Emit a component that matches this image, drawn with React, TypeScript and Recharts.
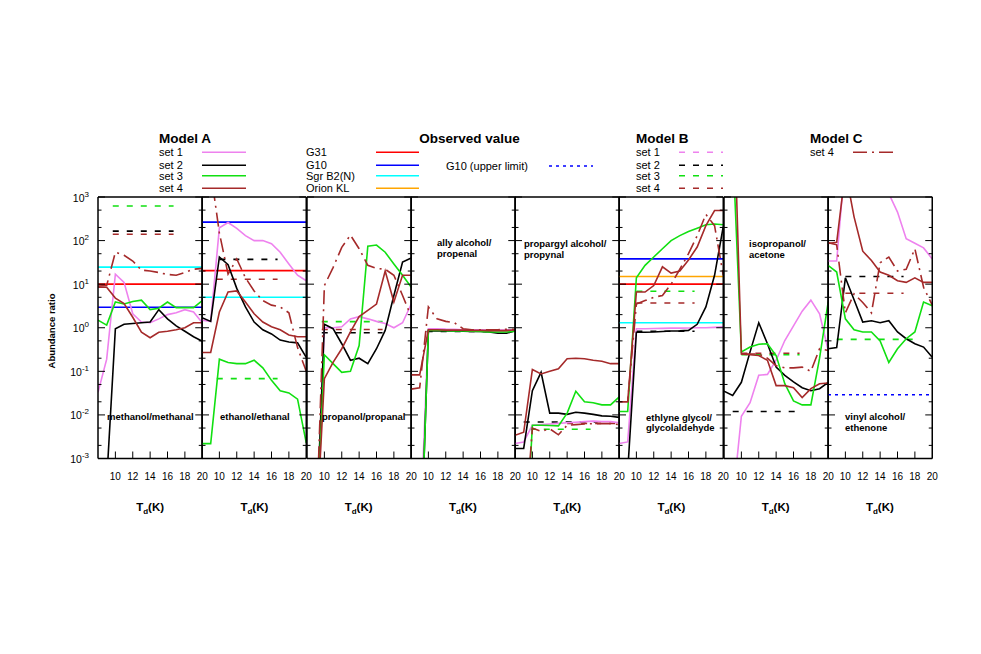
import React from "react";
import { LineChart, Line, XAxis, YAxis } from "recharts";

// temperatures (K) at which the models were computed
const TEMPS = [8, 9, 10, 11, 12, 13, 14, 15, 16, 17, 18, 19, 20];
const X_TICKS = [10, 12, 14, 16, 18, 20];
const Y_TICKS = [
  0.001, 0.002, 0.005, 0.01, 0.02, 0.05, 0.1, 0.2, 0.5, 1, 2, 5, 10, 20, 50, 100, 200, 500, 1000,
];

// Model A: set 1..4 ; Model C: set 4 ; Model B: [set, from T, to T, value] ; observed: [source, value]
const methanolA1 = [0.033, 0.19, 17, 11, 2.1, 1.35, 1.3, 1.6, 2.0, 2.2, 2.6, 2.3, 1.3];
const methanolA2 = [0.0002, 0.0003, 0.95, 1.2, 1.25, 1.3, 1.35, 2.6, 1.6, 1.1, 0.83, 0.62, 0.49];
const methanolA3 = [1.5, 1.15, 3.9, 3.5, 4.0, 4.3, 2.6, 2.8, 3.9, 2.9, 2.9, 2.9, 4.2];
const methanolA4 = [8.5, 8.5, 4.8, 3.6, 1.74, 0.79, 0.59, 0.79, 0.83, 0.9, 1.0, 1.3, 1.3];
const methanolC4 = [9, 9.3, 54, 46, 34, 21, 20, 18.5, 16.7, 16, 18.5, 22, 23];
const methanolB = [[3, 9.7, 16.7, 620], [2, 9.7, 16.7, 165], [4, 9.7, 16.7, 140]];
const methanolObs: [string, number][] = [["G31", 10], ["G10", 2.95], ["Sgr B2(N)", 24.6]];

const ethanolA1 = [1.5, 1.4, 196, 260, 190, 130, 100, 100, 85, 54, 29, 16, 12];
const ethanolA2 = [1.7, 1.4, 42, 28, 8, 3.0, 1.35, 0.9, 0.72, 0.52, 0.47, 0.45, 0.21];
const ethanolA3 = [0.0022, 0.0022, 0.19, 0.16, 0.15, 0.15, 0.18, 0.12, 0.062, 0.036, 0.032, 0.023, 0.0023];
const ethanolA4 = [0.27, 0.27, 2.3, 6.6, 7.0, 3.9, 2.1, 1.35, 1.05, 0.9, 0.68, 0.62, 0.62];
const ethanolC4 = [5000, 4000, 150, 17, 38, 14, 7, 4.2, 3.3, 3.0, 2.2, 0.35, 0.1];
const ethanolB = [[2, 10, 16.7, 37], [4, 9.7, 16.7, 13], [3, 9.7, 16.7, 0.068]];
const ethanolObs: [string, number][] = [["G10", 265], ["G31", 20.5], ["Sgr B2(N)", 5.0]];

const propanolA1 = [1e-6, 1e-5, 1.0, 1.0, 1.05, 1.6, 1.8, 1.6, 1.4, 1.25, 1.0, 1.3, 3.5];
const propanolA2 = [1e-6, 1e-5, 1.2, 0.95, 0.43, 0.18, 0.2, 0.15, 0.33, 0.87, 5.5, 32, 40];
const propanolA3 = [1e-6, 1e-5, 0.24, 0.15, 0.095, 0.1, 0.39, 74, 79, 54, 29, 16, 8.5];
const propanolA4 = [1e-6, 1e-5, 0.068, 0.16, 0.33, 0.8, 1.8, 2.5, 3.5, 20, 3.9, 16, 16];
const propanolC4 = [1e-6, 1e-5, 9.3, 24, 70, 134, 65, 27, 23, 22, 16, 5.5, 1.8];
const propanolB = [[3, 9.7, 16.7, 1.38], [4, 9.7, 16.7, 0.91], [2, 9.7, 16.7, 0.77]];
const propanolObs: [string, number][] = [];

const allylA1 = [1e-6, 1e-5, 0.95, 0.95, 0.93, 0.92, 0.9, 0.9, 0.9, 0.88, 0.88, 0.88, 0.9];
const allylA2 = [1e-6, 1e-6, 0.85, 0.85, 0.85, 0.85, 0.83, 0.82, 0.82, 0.8, 0.75, 0.75, 0.85];
const allylA3 = [1e-6, 1e-6, 0.88, 0.87, 0.86, 0.85, 0.84, 0.83, 0.82, 0.8, 0.8, 0.8, 0.83];
const allylA4 = [0.083, 0.083, 0.9, 0.9, 0.88, 0.88, 0.88, 0.87, 0.87, 0.86, 0.86, 0.86, 0.9];
const allylC4 = [0.039, 0.042, 3.0, 1.6, 1.4, 1.3, 0.95, 0.9, 0.9, 0.9, 0.9, 0.92, 0.92];
const allylB = [[2, 9.8, 16.7, 0.82], [4, 14, 20, 0.9]];
const allylObs: [string, number][] = [];

const propargylA1 = [0.0022, 0.0024, 0.0058, 0.006, 0.0062, 0.0064, 0.0066, 0.0068, 0.007, 0.0072, 0.007, 0.007, 0.0066];
const propargylA2 = [0.0017, 0.0017, 0.036, 0.095, 0.011, 0.011, 0.0103, 0.0115, 0.011, 0.0103, 0.0095, 0.0093, 0.0088];
const propargylA3 = [1e-6, 1e-6, 0.0058, 0.0058, 0.0057, 0.0056, 0.011, 0.035, 0.02, 0.019, 0.017, 0.017, 0.026];
const propargylA4 = [0.0034, 0.004, 0.11, 0.087, 0.1, 0.114, 0.195, 0.2, 0.195, 0.18, 0.17, 0.15, 0.15];
const propargylC4 = [1e-6, 1e-5, 0.005, 0.0042, 0.0048, 0.0035, 0.0058, 0.006, 0.0062, 0.0063, 0.0063, 0.0063, 0.006];
const propargylB = [[2, 9, 17.5, 0.0069], [3, 9.7, 16.7, 0.0047], [4, 14, 20, 0.0064]];
const propargylObs: [string, number][] = [];

const glycolA1 = [0.0022, 0.0024, 0.95, 0.95, 0.96, 0.97, 0.98, 0.98, 0.99, 1.0, 1.0, 1.02, 1.05];
const glycolA2 = [0.0005, 0.0005, 0.79, 0.79, 0.8, 0.82, 0.84, 0.85, 0.87, 1.2, 3.0, 16, 210];
const glycolA3 = [0.012, 0.012, 14, 27, 42, 65, 100, 130, 162, 192, 230, 240, 230];
const glycolA4 = [0.02, 0.02, 6.6, 6.6, 9.3, 25, 18, 20, 36, 71, 220, 490, 490];
const glycolC4 = [0.02, 0.02, 3.5, 4.2, 5, 5.5, 10, 22, 50, 130, 400, 220, 16];
const glycolB = [[3, 10, 16.7, 6.9], [4, 10, 16.7, 3.7], [2, 10, 16.7, 0.83]];
const glycolObs: [string, number][] = [["G10", 38], ["Orion KL", 15], ["G31", 10], ["Sgr B2(N)", 1.3]];

const isopropA1 = [1e-4, 1e-4, 0.0093, 0.019, 0.081, 0.085, 0.18, 0.51, 1.1, 2.4, 4.3, 2.1, 0.3];
const isopropA2 = [0.035, 0.028, 0.056, 0.28, 1.3, 0.43, 0.125, 0.081, 0.057, 0.042, 0.036, 0.04, 0.056];
const isopropA3 = [15000, 15000, 0.28, 0.36, 0.42, 0.43, 0.23, 0.052, 0.021, 0.017, 0.017, 0.2, 4];
const isopropA4 = [1e6, 1e6, 0.25, 0.24, 0.23, 0.18, 0.047, 0.047, 0.042, 0.025, 0.04, 0.052, 0.054];
const isopropC4 = [null, null, 0.25, 0.25, 0.25, 0.2, 0.135, 0.12, 0.12, 0.125, 0.1, 0.33, 0.3];
const isopropB = [[2, 9, 16.6, 0.012], [3, 10, 16.7, 0.24], [4, 10, 16.7, 0.26]];
const isopropObs: [string, number][] = [];

const vinylA1 = [34, 34, 8000, 8000, 8000, 8000, 8000, 1200, 450, 110, 87, 68, 38];
const vinylA2 = [0.33, 0.35, 14, 4.4, 1.35, 1.45, 1.3, 1.45, 0.8, 0.56, 0.43, 0.36, 0.21];
const vinylA3 = [27, 19, 1.6, 0.9, 0.8, 0.8, 0.5, 0.16, 0.33, 0.56, 0.8, 3.9, 3.2];
const vinylA4 = [86, 91, 4000, 350, 57, 35, 19, 16, 12, 11, 14, 11, 11];
const vinylC4 = [90, 80, 2.2, 6, 3.8, 2.2, 31, 42, 20, 22, 65, 8.5, 3.3];
const vinylB = [[2, 10, 16.7, 15], [4, 10, 16.7, 6.2], [3, 9, 17.9, 0.54]];
const vinylObs: [string, number][] = [["G10 (upper limit)", 0.029]];

const PANEL_LABELS = [
  ["methanol/methanal"],
  ["ethanol/ethanal"],
  ["propanol/propanal"],
  ["ally alcohol/", "propenal"],
  ["propargyl alcohol/", "propynal"],
  ["ethlyne glycol/", "glycolaldehyde"],
  ["isopropanol/", "acetone"],
  ["vinyl alcohol/", "ethenone"],
];

const PANELS = [
  { a: [methanolA1, methanolA2, methanolA3, methanolA4], c: methanolC4, b: methanolB, obs: methanolObs },
  { a: [ethanolA1, ethanolA2, ethanolA3, ethanolA4], c: ethanolC4, b: ethanolB, obs: ethanolObs },
  { a: [propanolA1, propanolA2, propanolA3, propanolA4], c: propanolC4, b: propanolB, obs: propanolObs },
  { a: [allylA1, allylA2, allylA3, allylA4], c: allylC4, b: allylB, obs: allylObs },
  { a: [propargylA1, propargylA2, propargylA3, propargylA4], c: propargylC4, b: propargylB, obs: propargylObs },
  { a: [glycolA1, glycolA2, glycolA3, glycolA4], c: glycolC4, b: glycolB, obs: glycolObs },
  { a: [isopropA1, isopropA2, isopropA3, isopropA4], c: isopropC4, b: isopropB, obs: isopropObs },
  { a: [vinylA1, vinylA2, vinylA3, vinylA4], c: vinylC4, b: vinylB, obs: vinylObs },
];

const SET_COLORS = ["#ee82ee", "#000000", "#11e011", "#a52a2a"];
const OBS_COLORS: Record<string, string> = {
  G31: "#ff0000",
  G10: "#0000ff",
  "Sgr B2(N)": "#00ffff",
  "Orion KL": "#ffa500",
  "G10 (upper limit)": "#0000ff",
};
const DASH_B = "6 8";
const DASH_C = "14 5 2 5";
const DOT_UL = "3 4";

// layout
const FONT = '"Liberation Sans", Arial, Helvetica, sans-serif';
const PLOT_LEFT = 98;
const PLOT_TOP = 196.5;
const PLOT_W = 104.25;
const PLOT_H = 261.5;
const PAD = 4;
const PAD_R = 14; // room for the "20" label on the right border
const PAD_T = 12;
const BOTTOM = 30;
const LINE_W = 1.6;
const axisStyle = { stroke: "#000", strokeWidth: 1.5 };

const isDecade = (v: number) => Math.abs(Math.log10(v) - Math.round(Math.log10(v))) < 1e-6;
const toSeries = (vals: (number | null)[]) => TEMPS.map((x, i) => ({ x, y: vals[i] }));

const XTick = (props: any) => {
  const { x, y, payload } = props;
  const v = payload.value;
  return (
    <g>
      {v < 20 && <line x1={x} x2={x} y1={y} y2={y - 7} stroke="#000" strokeWidth={1} />}
      <text x={x} y={y + 21} textAnchor="middle" fontSize={10} fontFamily={FONT} fill="#000">
        {v}
      </text>
    </g>
  );
};

const YTick = (props: any) => {
  const { x, y, payload, side, showLabel } = props;
  const v = payload.value;
  const major = isDecade(v);
  const len = major ? 7 : 3.5;
  const dir = side === "left" ? 1 : -1;
  return (
    <g>
      <line x1={x} x2={x + dir * len} y1={y} y2={y} stroke="#000" strokeWidth={1} />
      {showLabel && major && (
        <text x={x - 9} y={y + 4.5} textAnchor="end" fontSize={10.5} fontFamily={FONT} fill="#000">
          10
          <tspan dy={-5} fontSize={8}>
            {String(Math.round(Math.log10(v)))}
          </tspan>
        </text>
      )}
    </g>
  );
};

const Panel = ({ panel, index }: { panel: any; index: number }) => {
  const extra = index === 0 ? 50 : 0;
  const mLeft = PAD + extra;
  const width = PLOT_W + mLeft + PAD_R;
  const height = PLOT_H + PAD_T + BOTTOM;
  // every axis takes 1px of room (an axis of size 0 is not drawn), so margins give that pixel back
  return (
    <div style={{ position: "absolute", left: PLOT_LEFT + index * PLOT_W - mLeft, top: PLOT_TOP - PAD_T }}>
      <LineChart
        width={width}
        height={height}
        margin={{ top: PAD_T - 1, right: PAD_R - 1, bottom: BOTTOM - 1, left: mLeft - 1 }}
      >
        <XAxis
          dataKey="x"
          type="number"
          domain={[8, 20]}
          allowDataOverflow
          ticks={X_TICKS}
          interval={0}
          height={1}
          tickSize={0}
          tickMargin={0}
          tickLine={false}
          axisLine={axisStyle}
          tick={(p: any) => <XTick {...p} />}
        />
        <XAxis
          xAxisId="top"
          orientation="top"
          type="number"
          domain={[8, 20]}
          ticks={X_TICKS}
          height={1}
          tick={false}
          tickLine={false}
          axisLine={axisStyle}
        />
        <YAxis
          type="number"
          scale="log"
          domain={[0.001, 1000]}
          allowDataOverflow
          ticks={Y_TICKS}
          interval={0}
          width={1}
          tickSize={0}
          tickMargin={0}
          tickLine={false}
          axisLine={axisStyle}
          tick={(p: any) => <YTick {...p} side="left" showLabel={index === 0} />}
        />
        <YAxis
          yAxisId="right"
          orientation="right"
          type="number"
          scale="log"
          domain={[0.001, 1000]}
          allowDataOverflow
          ticks={Y_TICKS}
          interval={0}
          width={1}
          tickSize={0}
          tickMargin={0}
          tickLine={false}
          axisLine={axisStyle}
          tick={(p: any) => <YTick {...p} side="right" showLabel={false} />}
        />
        {panel.obs.map(([name, v]: [string, number]) => (
          <Line
            key={"obs-" + name}
            data={[{ x: 8, y: v }, { x: 20, y: v }]}
            dataKey="y"
            stroke={OBS_COLORS[name]}
            strokeWidth={LINE_W}
            strokeDasharray={name === "G10 (upper limit)" ? DOT_UL : undefined}
            dot={false}
            isAnimationActive={false}
          />
        ))}
        {panel.b.map(([set, from, to, v]: number[], i: number) => (
          <Line
            key={"b-" + i}
            data={[{ x: from, y: v }, { x: to, y: v }]}
            dataKey="y"
            stroke={SET_COLORS[set - 1]}
            strokeWidth={LINE_W}
            strokeDasharray={DASH_B}
            dot={false}
            isAnimationActive={false}
          />
        ))}
        {panel.a.map((vals: number[], i: number) => (
          <Line
            key={"a-" + i}
            data={toSeries(vals)}
            dataKey="y"
            stroke={SET_COLORS[i]}
            strokeWidth={LINE_W}
            dot={false}
            isAnimationActive={false}
          />
        ))}
        <Line
          data={toSeries(panel.c)}
          dataKey="y"
          stroke={SET_COLORS[3]}
          strokeWidth={LINE_W}
          strokeDasharray={DASH_C}
          dot={false}
          isAnimationActive={false}
        />
      </LineChart>
    </div>
  );
};

// label anchor points (page px)
const LABEL_POS = [
  [107, 417],
  [220, 417],
  [322, 417],
  [437, 243],
  [524, 244],
  [646, 417.3],
  [749, 244],
  [845, 417],
];

const ROW_Y = [152.2, 165.2, 175.7, 188.3];
const SET_NAMES = ["set 1", "set 2", "set 3", "set 4"];
const OBS_NAMES = ["G31", "G10", "Sgr B2(N)", "Orion KL"];

const Overlay = () => {
  const txt = (x: number, y: number, s: string, fs = 11, bold = false) => (
    <text x={x} y={y + fs * 0.36} fontSize={fs} fontWeight={bold ? "bold" : "normal"} fontFamily={FONT} fill="#000">
      {s}
    </text>
  );
  const sample = (x1: number, x2: number, y: number, color: string, dash?: string) => (
    <line x1={x1} x2={x2} y1={y} y2={y} stroke={color} strokeWidth={LINE_W} strokeDasharray={dash} />
  );
  return (
    <svg width={981} height={654} style={{ position: "absolute", left: 0, top: 0, pointerEvents: "none" }}>
      {txt(159, 137.7, "Model A", 13.5, true)}
      {txt(419.3, 137.7, "Observed value", 13.5, true)}
      {txt(636, 137.7, "Model B", 13.5, true)}
      {txt(810, 137.7, "Model C", 13.5, true)}
      {SET_NAMES.map((s, i) => (
        <g key={"la" + i}>
          {txt(159, ROW_Y[i], s)}
          {sample(202, 246, ROW_Y[i], SET_COLORS[i])}
          {txt(636, ROW_Y[i], s)}
          {sample(679, 723, ROW_Y[i], SET_COLORS[i], DASH_B)}
        </g>
      ))}
      {OBS_NAMES.map((s, i) => (
        <g key={"lo" + i}>
          {txt(306, ROW_Y[i], s)}
          {sample(376, 419, ROW_Y[i], OBS_COLORS[s])}
        </g>
      ))}
      {txt(446, 166, "G10 (upper limit)")}
      {sample(549, 593, 166, OBS_COLORS["G10 (upper limit)"], DOT_UL)}
      {txt(810, ROW_Y[0], "set 4")}
      {sample(853, 896, ROW_Y[0], SET_COLORS[3], DASH_C)}

      <text
        x={51.5}
        y={331}
        transform="rotate(-90 51.5 331)"
        textAnchor="middle"
        dominantBaseline="central"
        fontSize={9.5}
        fontWeight="bold"
        fontFamily={FONT}
      >
        Abundance ratio
      </text>

      {PANEL_LABELS.map((lines, i) =>
        lines.map((s, j) => (
          <text
            key={"pl" + i + "-" + j}
            x={LABEL_POS[i][0]}
            y={LABEL_POS[i][1] + j * 10.4 + 3.4}
            fontSize={9.5}
            fontWeight="bold"
            fontFamily={FONT}
          >
            {s}
          </text>
        ))
      )}

      {PANELS.map((_, i) => (
        <text
          key={"td" + i}
          x={PLOT_LEFT + (i + 0.5) * PLOT_W}
          y={510.5}
          textAnchor="middle"
          fontSize={11.5}
          fontWeight="bold"
          fontFamily={FONT}
        >
          T
          <tspan dy={3} fontSize={8}>
            d
          </tspan>
          <tspan dy={-3}>(K)</tspan>
        </text>
      ))}
    </svg>
  );
};

export default function App() {
  return (
    <div style={{ position: "absolute", left: 0, top: 0, width: 981, height: 654, background: "#fff" }}>
      {PANELS.map((p, i) => (
        <Panel key={i} panel={p} index={i} />
      ))}
      <Overlay />
    </div>
  );
}
